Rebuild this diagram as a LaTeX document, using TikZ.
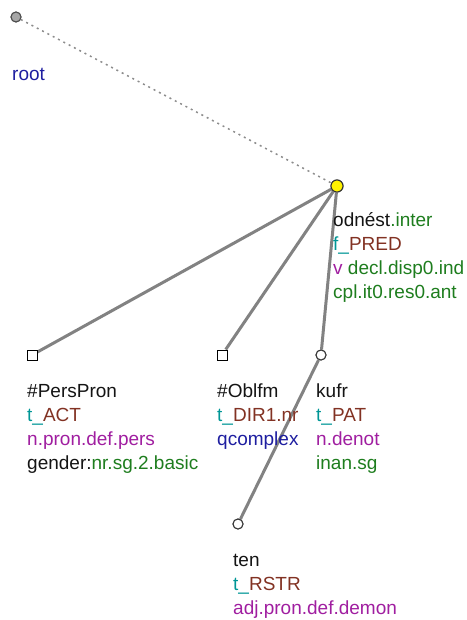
\documentclass[tikz,border=0pt]{standalone}
\usepackage{fontspec}
\setmainfont{Liberation Sans}
\definecolor{lemmacol}{RGB}{20,20,20}
\definecolor{greencol}{RGB}{30,125,30}
\definecolor{tealcol}{RGB}{0,150,150}
\definecolor{browncol}{RGB}{130,50,35}
\definecolor{purplecol}{RGB}{160,30,160}
\definecolor{bluecol}{RGB}{30,30,160}
\definecolor{edgecol}{RGB}{130,130,130}
\def\fn#1#2{\textcolor{tealcol}{#1\_}\textcolor{browncol}{#2}}

\begin{document}
\begin{tikzpicture}[
x=1pt, y=-1pt,
tnode/.style={circle, draw=black!80, fill=white, line width=1pt, minimum size=10pt, inner sep=0pt},
anode/.style={rectangle, draw=black, fill=white, line width=1pt, minimum size=10pt, inner sep=0pt},
rootnode/.style={circle, draw=black!70, fill=black!35, line width=1pt, minimum size=10pt, inner sep=0pt},
topnode/.style={circle, draw=black!80, fill=yellow, line width=1pt, minimum size=12pt, inner sep=0pt},
tlabel/.style={anchor=base west, align=left, inner sep=0pt, font=\fontsize{19}{24}\selectfont},
tedge/.style={draw=edgecol, line width=3pt},
rootedge/.style={draw=black!45, line width=1.5pt, dash pattern=on 2pt off 4pt}
]
\useasboundingbox (0,0) rectangle (466,620);

% nodes
\node[rootnode] (root) at (16,17) {};
\node[topnode] (odnest) at (337,186) {};
\node[anode] (perspron) at (32,355) {};
\node[anode] (oblfm) at (222,355) {};
\node[tnode] (kufr) at (321,355) {};
\node[tnode] (ten) at (238,524) {};

% edges
\draw[rootedge] (root) -- (odnest);
\draw[tedge] (odnest) -- (perspron);
\draw[tedge] (odnest) -- (oblfm);
\draw[tedge] (odnest) -- (kufr);
\draw[tedge] (kufr) -- (ten);

% redraw node marks on top of edges
\node[rootnode] at (root) {};
\node[topnode] at (odnest) {};
\node[anode] at (perspron) {};
\node[anode] at (oblfm) {};
\node[tnode] at (kufr) {};
\node[tnode] at (ten) {};

% labels (base = baseline of last line)
\node[tlabel] (rootlab) at (12,81) {\textcolor{bluecol}{root}};
\node[tlabel] (odnestlab) at (333,298) {\textcolor{lemmacol}{odnést}\textcolor{greencol}{.inter}\\
\fn{f}{PRED}\\
\textcolor{purplecol}{v} \textcolor{greencol}{decl.disp0.ind}\\
\textcolor{greencol}{cpl.it0.res0.ant}};
\node[tlabel] (persprolab) at (27,469) {\textcolor{lemmacol}{\#PersPron}\\
\fn{t}{ACT}\\
\textcolor{purplecol}{n.pron.def.pers}\\
\textcolor{lemmacol}{gender:}\textcolor{greencol}{nr.sg.2.basic}};
\node[tlabel] (oblfmlab) at (217,445) {\textcolor{lemmacol}{\#Oblfm}\\
\fn{t}{DIR1.nr}\\
\textcolor{bluecol}{qcomplex}};
\node[tlabel] (kufrlab) at (316,469) {\textcolor{lemmacol}{kufr}\\
\fn{t}{PAT}\\
\textcolor{purplecol}{n.denot}\\
\textcolor{greencol}{inan.sg}};
\node[tlabel] (tenlab) at (233,614) {\textcolor{lemmacol}{ten}\\
\fn{t}{RSTR}\\
\textcolor{purplecol}{adj.pron.def.demon}};

\end{tikzpicture}
\end{document}
